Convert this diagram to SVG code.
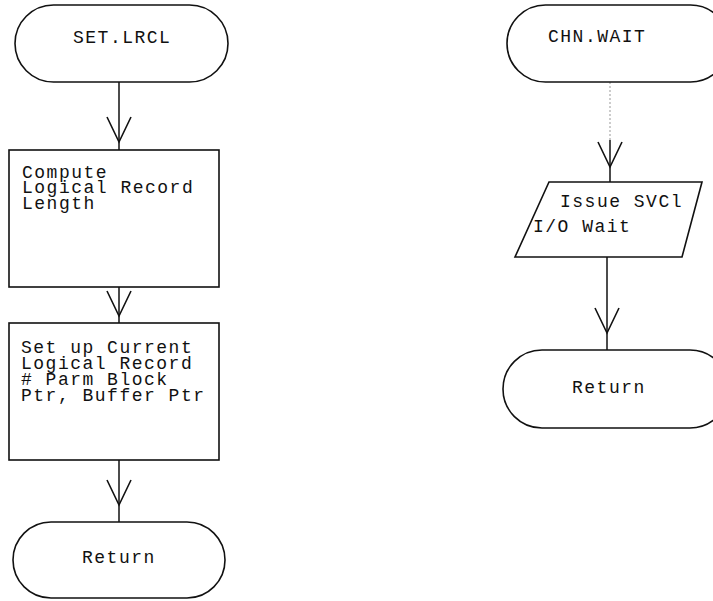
<svg xmlns="http://www.w3.org/2000/svg" width="713" height="601" viewBox="0 0 713 601">
<defs>
<style>
.shape{fill:#fff;stroke:#111;stroke-width:1.6}
.conn{fill:none;stroke:#111;stroke-width:1.5}
.faint{fill:none;stroke:#999;stroke-width:1;stroke-dasharray:2 2}
.t{font-family:"Liberation Mono","Courier New",monospace;font-size:18px;letter-spacing:1.5px;fill:#111}
</style>
<marker id="v" markerUnits="userSpaceOnUse" orient="auto" markerWidth="40" markerHeight="40" refX="0" refY="0" viewBox="-30 -20 40 40" overflow="visible">
<path d="M-25,-12 L0,0 L-25,12" fill="none" stroke="#111" stroke-width="1.6"/>
</marker>
</defs>
<rect width="713" height="601" fill="#fff"/>
<g id="connectors">
<path class="conn" d="M119,82 L119,142 L119,150" marker-mid="url(#v)"/>
<path class="conn" d="M119,287 L119,316 L119,323" marker-mid="url(#v)"/>
<path class="conn" d="M119,460 L119,505 L119,522" marker-mid="url(#v)"/>
<path class="faint" d="M610,82 L610,140"/>
<path class="conn" d="M610,140 L610,167 L610,182" marker-mid="url(#v)"/>
<path class="conn" d="M607,257 L607,333 L607,350" marker-mid="url(#v)"/>
</g>
<g id="set-lrcl">
<rect class="shape" x="15" y="5" width="213" height="77" rx="38.5" ry="38.5"/>
<text class="t" x="73" y="43">SET.LRCL</text>
</g>
<g id="compute-length">
<rect class="shape" x="9" y="150" width="210" height="137"/>
<text class="t" x="22" y="177.5">Compute</text>
<text class="t" x="22" y="193">Logical Record</text>
<text class="t" x="22" y="208.5">Length</text>
</g>
<g id="set-up-current">
<rect class="shape" x="9" y="323" width="210" height="137"/>
<text class="t" x="21" y="353">Set up Current</text>
<text class="t" x="21" y="369">Logical Record</text>
<text class="t" x="21" y="385"># Parm Block</text>
<text class="t" x="21" y="401">Ptr, Buffer Ptr</text>
</g>
<g id="return-left">
<rect class="shape" x="13" y="522" width="212" height="76" rx="38" ry="38"/>
<text class="t" x="82" y="563">Return</text>
</g>
<g id="chn-wait">
<rect class="shape" x="507" y="5" width="222" height="77" rx="38.5" ry="38.5"/>
<text class="t" x="548" y="42">CHN.WAIT</text>
</g>
<g id="issue-svc">
<polygon class="shape" points="549,182 702,182 682,257 515,257"/>
<text class="t" x="560" y="207">Issue SVCl</text>
<text class="t" x="533" y="232">I/O Wait</text>
</g>
<g id="return-right">
<rect class="shape" x="503" y="350" width="226" height="78" rx="39" ry="39"/>
<text class="t" x="572" y="393">Return</text>
</g>
</svg>
